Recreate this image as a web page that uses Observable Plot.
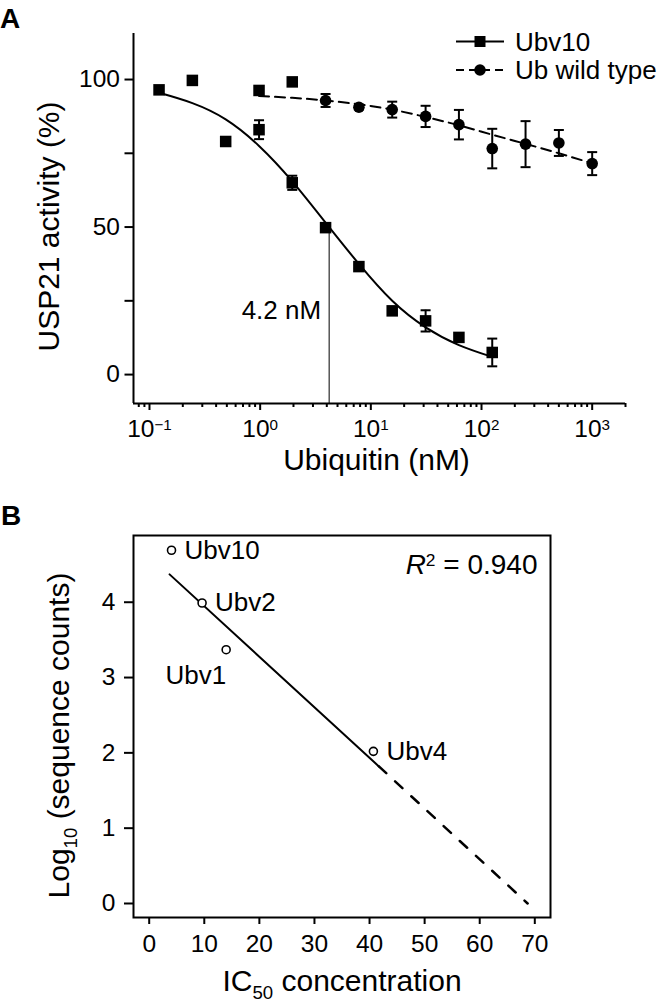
<!DOCTYPE html>
<html><head><meta charset="utf-8">
<script src="https://cdn.jsdelivr.net/npm/d3@7"></script>
<script src="https://cdn.jsdelivr.net/npm/@observablehq/plot@0.6"></script>
<style>
body{margin:0;background:#fff;}
#wrap{position:relative;width:660px;height:1005px;overflow:hidden;background:#fff;font-family:"Liberation Sans",Arial,Helvetica,sans-serif;}
#wrap svg{position:absolute;left:0;}
</style></head><body><div id="wrap"></div>
<script>
// ---------- Panel A data ----------
const ubv10Conc = [0.122, 0.244, 0.488, 0.977, 1.95, 3.9, 7.8, 15.6, 31.25, 62.5, 125];
const ubv10Activity = [96.5, 99.7, 79, 83, 65, 49.8, 36.6, 21.6, 18.2, 12.6, 7.5];
const ubv10Err = [1.2, 0, 0, 3.2, 2.4, 0, 0.6, 1.2, 3.6, 0, 4.7];
const ubv10FitActivity = [95.5, 92, 86.5, 77.5, 65.5, 51.5, 37.5, 25, 16, 10, 6];

const wtConc = [0.977, 1.95, 3.9, 7.8, 15.6, 31.25, 62.5, 125, 250, 500, 1000];
const wtActivity = [96.3, 99.2, 92.9, 90.6, 89.8, 87.5, 84.7, 76.6, 78.1, 78.5, 71.5];
const wtErr = [0, 1.3, 2.2, 0.8, 2.7, 3.6, 5, 6.7, 7.8, 4.4, 3.9];
const wtFitActivity = [94.4, 93.8, 92.9, 91.6, 89.8, 87.3, 84.5, 81.3, 78.2, 75, 71.6];

const ic50Ubv10 = 4.2;
const ic50Label = "4.2 nM";
const halfActivity = 50;
const ic50LabelLevel = 21.6;

const yTicksA = [0, 25, 50, 75, 100];
const yTickLabelsA = ["0", "", "50", "", "100"];
const xMajorTicksA = [0.1, 1, 10, 100, 1000];
const xTickLabelsA = ["10^{−1}", "10^{0}", "10^{1}", "10^{2}", "10^{3}"];
const xMinorTicksA = [0.08, 0.09, 0.2, 0.3, 0.4, 0.5, 0.6, 0.7, 0.8, 0.9,
  2, 3, 4, 5, 6, 7, 8, 9, 20, 30, 40, 50, 60, 70, 80, 90,
  200, 300, 400, 500, 600, 700, 800, 900, 2000];
const xDomainA = [0.0717, 2000];
const yDomainA = [-9.8, 115.6];
const xLabelA = "Ubiquitin (nM)";
const yLabelA = "USP21 activity (%)";
const legendLabels = ["Ubv10", "Ub wild type"];

// ---------- Panel B data ----------
const ubvNames = ["Ubv10", "Ubv2", "Ubv1", "Ubv4"];
const ic50Values = [4.05, 9.6, 13.97, 40.7];
const logSeqCounts = [4.69, 3.99, 3.37, 2.02];
const fitSolidX = [3.7, 41.7];
const fitSolidY = [4.37, 1.82];
const fitDashX = [41.7, 68.7];
const fitDashY = [1.82, 0.0];
const r2Label = "*R*^{2} = 0.940";
const xTicksB = [0, 10, 20, 30, 40, 50, 60, 70];
const yTicksB = [0, 1, 2, 3, 4];
const xDomainB = [-2.85, 72.85];
const yDomainB = [-0.186, 4.886];
const xLabelB = "IC_{50} concentration";
const yLabelB = "Log_{10} (sequence counts)";

// ---------- build tables ----------
const ubv10 = ubv10Conc.map((c, i) => ({c, v: ubv10Activity[i], e: ubv10Err[i]}));
const ubv10Fit = ubv10Conc.map((c, i) => ({c, v: ubv10FitActivity[i]}));
const wt = wtConc.map((c, i) => ({c, v: wtActivity[i], e: wtErr[i]}));
const wtFit = wtConc.map((c, i) => ({c, v: wtFitActivity[i]}));
const pointsB = ubvNames.map((name, i) => ({name, x: ic50Values[i], y: logSeqCounts[i]}));
const solidB = fitSolidX.map((x, i) => ({x, y: fitSolidY[i]}));
const dashB = fitDashX.map((x, i) => ({x, y: fitDashY[i]}));

const FONT = "Liberation Sans, Arial, Helvetica, sans-serif";
const capSymbol = {draw(ctx, size) { const r = Math.sqrt(size / Math.PI); ctx.moveTo(-r, 0); ctx.lineTo(r, 0); }};

function errorMarks(data) {
  const f = d => d.e > 0;
  return [
    Plot.ruleX(data, {x: "c", y1: d => d.v - d.e, y2: d => d.v + d.e, filter: f, stroke: "black", strokeWidth: 2}),
    Plot.dot(data, {x: "c", y: d => d.v + d.e, filter: f, symbol: capSymbol, r: 5, fill: "none", stroke: "black", strokeWidth: 2}),
    Plot.dot(data, {x: "c", y: d => d.v - d.e, filter: f, symbol: capSymbol, r: 5, fill: "none", stroke: "black", strokeWidth: 2})
  ];
}

const plotA = Plot.plot({
  width: 660, height: 490,
  marginLeft: 133, marginRight: 35, marginTop: 33, marginBottom: 87,
  style: {fontFamily: FONT, fontSize: "24.5px", color: "black", background: "transparent", overflow: "visible"},
  x: {type: "log", domain: xDomainA, label: null},
  y: {domain: yDomainA, label: null},
  marks: [
    Plot.axisY({ticks: yTicksA, tickSize: 8.5, tickPadding: 5, strokeWidth: 2, tickFormat: d => yTickLabelsA[yTicksA.indexOf(d)], label: null}),
    Plot.axisX({ticks: xMinorTicksA, tickSize: 4, strokeWidth: 2, tickFormat: () => "", label: null}),
    Plot.axisX({ticks: xMajorTicksA, tickSize: 7, tickPadding: 9, strokeWidth: 2, tickFormat: d => xTickLabelsA[xMajorTicksA.indexOf(d)], label: null}),
    Plot.ruleX([xDomainA[0]], {stroke: "black", strokeWidth: 2}),
    Plot.ruleY([yDomainA[0]], {stroke: "black", strokeWidth: 2}),
    Plot.ruleX([ic50Ubv10], {y1: yDomainA[0], y2: halfActivity, stroke: "black", strokeWidth: 1}),
    Plot.line(ubv10Fit, {x: "c", y: "v", curve: "natural", stroke: "black", strokeWidth: 2}),
    Plot.line(wtFit, {x: "c", y: "v", curve: "natural", stroke: "black", strokeWidth: 2, strokeDasharray: "10,6"}),
    ...errorMarks(ubv10),
    ...errorMarks(wt),
    Plot.dot(ubv10, {x: "c", y: "v", symbol: "square", r: 6.5, fill: "black", stroke: "none"}),
    Plot.dot(wt, {x: "c", y: "v", filter: d => d.c < 3, symbol: "square", r: 6.5, fill: "black", stroke: "none"}),
    Plot.dot(wt, {x: "c", y: "v", filter: d => d.c >= 3, symbol: "circle", r: 5.8, fill: "black", stroke: "none"}),
    Plot.text([ic50Label], {x: ic50Ubv10, y: ic50LabelLevel, dx: -8, textAnchor: "end", lineAnchor: "middle", fontSize: 26}),
    Plot.text([xLabelA], {frameAnchor: "bottom", textAnchor: "middle", lineAnchor: "middle", dx: -3, dy: 57, fontSize: 30}),
    Plot.text([yLabelA], {frameAnchor: "left", rotate: -90, textAnchor: "middle", lineAnchor: "middle", dx: -84, dy: 8, fontSize: 30})
  ]
});

const plotB = Plot.plot({
  width: 660, height: 515,
  marginLeft: 133, marginRight: 110, marginTop: 45, marginBottom: 88,
  style: {fontFamily: FONT, fontSize: "24.5px", color: "black", background: "transparent", overflow: "visible"},
  x: {domain: xDomainB, label: null},
  y: {domain: yDomainB, label: null},
  marks: [
    Plot.frame({stroke: "black", strokeWidth: 2}),
    Plot.axisX({ticks: xTicksB, tickSize: 7, tickPadding: 10, strokeWidth: 2, tickFormat: d => String(d), label: null}),
    Plot.axisY({ticks: yTicksB, tickSize: 9, tickPadding: 9, strokeWidth: 2, tickFormat: d => String(d), label: null}),
    Plot.line(solidB, {x: "x", y: "y", stroke: "black", strokeWidth: 2}),
    Plot.line(dashB, {x: "x", y: "y", stroke: "black", strokeWidth: 2.5, strokeDasharray: "10,12"}),
    Plot.dot(pointsB, {x: "x", y: "y", r: 4, fill: "white", stroke: "black", strokeWidth: 1.6}),
    Plot.text(pointsB, {x: "x", y: "y", text: "name", filter: d => d.name !== "Ubv1", dx: 13, textAnchor: "start", lineAnchor: "middle", fontSize: 26}),
    Plot.text(pointsB, {x: "x", y: "y", text: "name", filter: d => d.name === "Ubv1", dy: 26, textAnchor: "end", lineAnchor: "middle", fontSize: 26}),
    Plot.text([r2Label], {frameAnchor: "top-right", dx: -13, dy: 30, textAnchor: "end", lineAnchor: "middle", fontSize: 28}),
    Plot.text([xLabelB], {frameAnchor: "bottom", textAnchor: "middle", lineAnchor: "middle", dy: 64, fontSize: 30}),
    Plot.text([yLabelB], {frameAnchor: "left", rotate: -90, textAnchor: "middle", lineAnchor: "middle", dx: -74, dy: 9, fontSize: 30})
  ]
});

const wrap = document.getElementById("wrap");
plotA.style.top = "0px";
plotB.style.top = "490px";
wrap.appendChild(plotA);
wrap.appendChild(plotB);

// overlay: panel letters and legend
const ov = d3.select(wrap).append("svg").attr("width", 660).attr("height", 1005)
  .style("top", "0px").style("font-family", FONT);
ov.append("text").attr("x", 0).attr("y", 28).attr("font-size", 28).attr("font-weight", "bold").text("A");
ov.append("text").attr("x", 1).attr("y", 525).attr("font-size", 28).attr("font-weight", "bold").text("B");
const legendRows = [
  {label: legendLabels[0], y: 41.5, dash: null, symbol: d3.symbolSquare, size: 11 * 11},
  {label: legendLabels[1], y: 70, dash: "8,5", symbol: d3.symbolCircle, size: Math.PI * 5.8 * 5.8}
];
legendRows.forEach(r => {
  ov.append("line").attr("x1", 456).attr("x2", 504).attr("y1", r.y).attr("y2", r.y)
    .attr("stroke", "black").attr("stroke-width", 2).attr("stroke-dasharray", r.dash);
  ov.append("path").attr("d", d3.symbol(r.symbol, r.size)()).attr("transform", `translate(480,${r.y})`).attr("fill", "black");
  ov.append("text").attr("x", 515).attr("y", r.y + 9).attr("font-size", 26).text(r.label);
});

// rich text: ^{sup}, _{sub}, *italic*
function richify(root) {
  root.querySelectorAll("text").forEach(el => {
    const s = el.textContent;
    if (!/\^\{|_\{|\*/.test(s)) return;
    const fs = parseFloat(getComputedStyle(el).fontSize);
    const parts = s.split(/(\^\{[^}]*\}|_\{[^}]*\}|\*[^*]*\*)/).filter(p => p !== "");
    while (el.firstChild) el.removeChild(el.firstChild);
    let cur = 0;
    for (const p of parts) {
      const t = document.createElementNS("http://www.w3.org/2000/svg", "tspan");
      let shift = 0, txt = p;
      if (p.startsWith("^{")) { txt = p.slice(2, -1); shift = -0.3 * fs; t.setAttribute("font-size", 0.62 * fs); }
      else if (p.startsWith("_{")) { txt = p.slice(2, -1); shift = 0.26 * fs; t.setAttribute("font-size", 0.62 * fs); }
      else if (p.startsWith("*")) { txt = p.slice(1, -1); t.setAttribute("font-style", "italic"); }
      if (shift !== cur) t.setAttribute("dy", shift - cur);
      cur = shift;
      t.textContent = txt;
      el.appendChild(t);
    }
  });
}
richify(plotA);
richify(plotB);
</script>
</body></html>
